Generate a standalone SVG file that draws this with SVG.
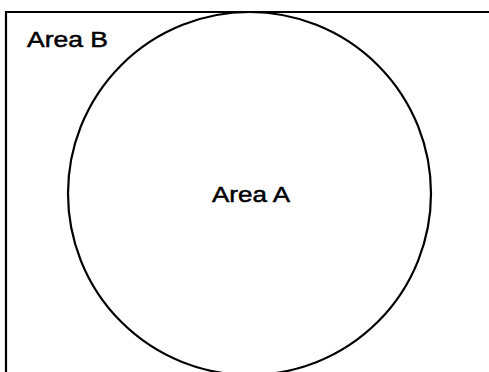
<svg xmlns="http://www.w3.org/2000/svg" width="489" height="372" viewBox="0 0 489 372">
<style>
.ln{fill:none;stroke:#000;stroke-width:2.2}
.t{font-family:"Liberation Sans",Arial,sans-serif;font-size:22px;fill:#000;stroke:#000;stroke-width:0.5}
</style>
<rect width="489" height="372" fill="#fff"/>
<g id="areaB">
<path class="ln" d="M6,372 V12 H489"/>
<text class="t" x="27" y="47" textLength="81" lengthAdjust="spacingAndGlyphs">Area B</text>
</g>
<g id="areaA">
<circle class="ln" cx="249.5" cy="193.5" r="181.5"/>
<text class="t" x="212" y="202" textLength="78" lengthAdjust="spacingAndGlyphs">Area A</text>
</g>
<g id="connectors"/>
</svg>
